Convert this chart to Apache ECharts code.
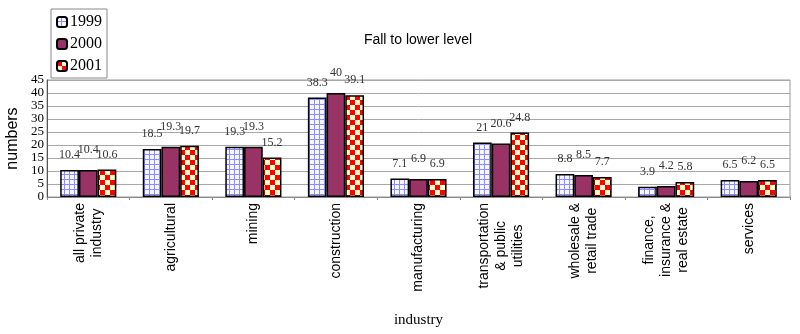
<!DOCTYPE html>
<html>
<head>
<meta charset="utf-8">
<script src="https://cdn.jsdelivr.net/npm/echarts@6/dist/echarts.min.js"></script>
<style>html,body{margin:0;padding:0;background:#fff}#c{width:800px;height:334px}</style>
</head>
<body>
<div id="c"></div>
<script>
const categories = ['all private\nindustry','agricultural','mining','construction','manufacturing','transportation\n& public\nutilities','wholesale &\nretail trade','finance,\ninsurance &\nreal estate','services'];
const seriesNames = ['1999','2000','2001'];
const values1999 = [10.4,18.5,19.3,38.3,7.1,21,8.8,3.9,6.5];
const values2000 = [10.4,19.3,19.3,40,6.9,20.6,8.5,4.2,6.2];
const values2001 = [10.6,19.7,15.2,39.1,6.9,24.8,7.7,5.8,6.5];
const yTicks = {min:0,max:45,interval:5};

function gridPattern(){
  const c=document.createElement('canvas');c.width=5;c.height=5;
  const g=c.getContext('2d');
  g.fillStyle='#f6f6ff';g.fillRect(0,0,5,5);
  g.fillStyle='#8c8cff';g.fillRect(4,0,1,5);g.fillRect(0,4,5,1);
  return {image:c,repeat:'repeat'};
}
function checkPattern(){
  const c=document.createElement('canvas');c.width=10;c.height=10;
  const g=c.getContext('2d');
  g.fillStyle='#ffffcc';g.fillRect(0,0,10,10);
  g.fillStyle='#ff0000';g.fillRect(0,0,5,5);g.fillRect(5,5,5,5);
  return {image:c,repeat:'repeat'};
}
const fills=[gridPattern(),'#993366',checkPattern()];
const dataSets=[values1999,values2000,values2001];
const labelDistances=[9,14,9];

const chart=echarts.init(document.getElementById('c'),null,{renderer:'canvas'});
const serif='"Liberation Serif","Times New Roman",serif';
const sans='"Liberation Sans",Arial,sans-serif';
chart.setOption({
  animation:false,
  backgroundColor:'#fff',
  title:{text:'Fall to lower level',left:413,textAlign:'center',top:28,
    textStyle:{fontFamily:sans,fontSize:14,fontWeight:'normal',color:'#000'}},
  legend:{orient:'vertical',left:51,top:9,padding:[5,5,4,5],itemGap:6,itemWidth:10,itemHeight:10,
    borderColor:'#888',borderWidth:1,
    textStyle:{fontFamily:serif,fontSize:16,color:'#000',padding:[0,0,0,-2]},
    data:seriesNames},
  grid:{left:47,right:10,top:80,bottom:137,show:true,borderColor:'#999',borderWidth:1,backgroundColor:'#fff',
    outerBoundsMode:'none',containLabel:false},
  xAxis:{type:'category',data:categories,
    name:'industry',nameLocation:'middle',nameGap:116,
    nameTextStyle:{fontFamily:serif,fontSize:15,color:'#000'},
    axisLine:{lineStyle:{color:'#888'}},
    axisTick:{show:true,length:3,inside:false,lineStyle:{color:'#888'}},
    axisLabel:{rotate:90,interval:0,margin:6,color:'#000',
      formatter:v=>v.split('\n').map(l=>'{c|'+l+'}').join('\n'),
      rich:{c:{align:'center',fontFamily:sans,fontSize:14,lineHeight:17,color:'#000'}}}},
  yAxis:{type:'value',min:yTicks.min,max:yTicks.max,interval:yTicks.interval,
    name:'numbers',nameLocation:'middle',nameGap:21,nameRotate:90,
    nameTextStyle:{fontFamily:sans,fontSize:16,color:'#000'},
    axisLine:{show:true,lineStyle:{color:'#555'}},
    axisTick:{show:false},
    splitLine:{lineStyle:{color:'#a8a8a8',width:1}},
    axisLabel:{margin:3,showMinLabel:true,showMaxLabel:true,hideOverlap:false,
      fontFamily:serif,fontSize:13,lineHeight:12,color:'#000'}},
  series:dataSets.map((d,i)=>({
    name:seriesNames[i],type:'bar',data:d,
    barGap:'0%',barCategoryGap:'32%',
    itemStyle:{color:fills[i],borderColor:'#000',borderWidth:1.5},
    labelLayout:{hideOverlap:false},
    label:{show:true,position:'top',distance:labelDistances[i],fontFamily:serif,fontSize:12,color:'#333'}
  }))
});
</script>
</body>
</html>
